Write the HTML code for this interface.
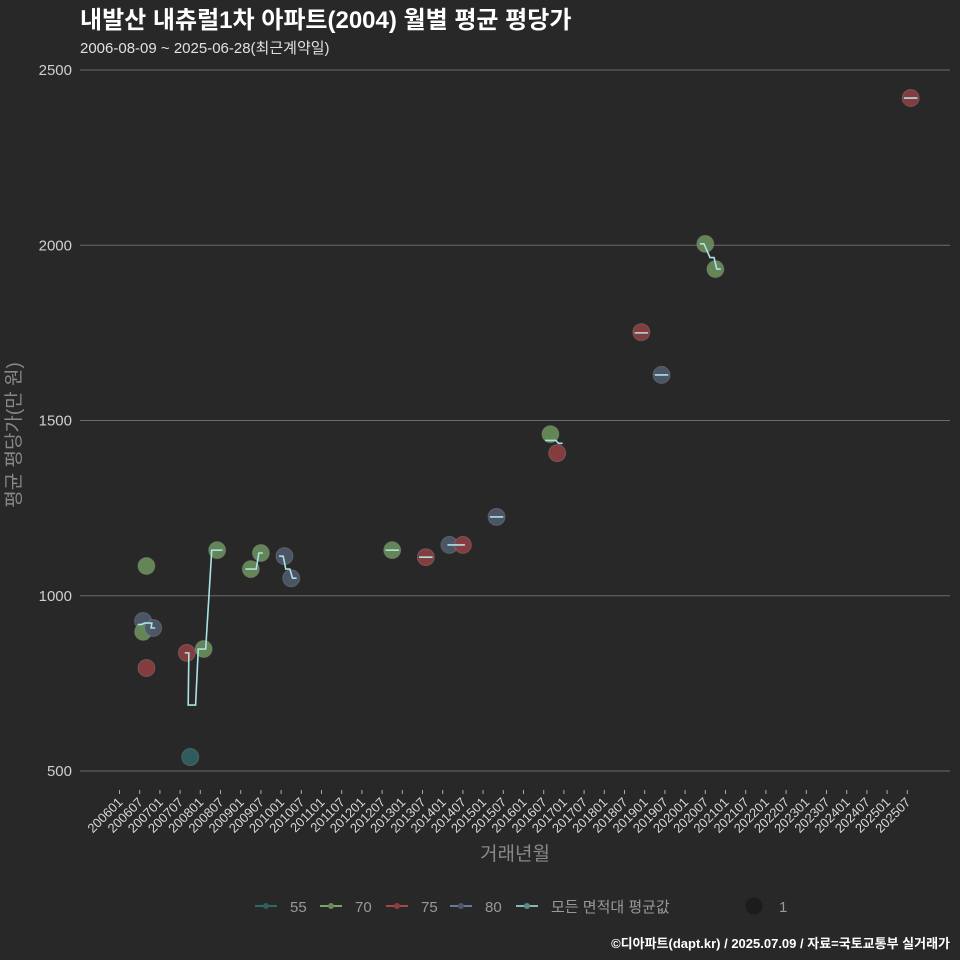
<!DOCTYPE html>
<html><head><meta charset="utf-8">
<style>
html,body{margin:0;padding:0;background:#282828;}
svg{display:block;font-family:"Liberation Sans","Noto Sans CJK KR",sans-serif;}
</style></head>
<body>
<svg id="chart" width="960" height="960" viewBox="0 0 960 960">
<rect width="960" height="960" fill="#282828"/>
<text x="80" y="28" font-size="24" font-weight="bold" fill="#ffffff">내발산 내츄럴1차 아파트(2004) 월별 평균 평당가</text>
<text x="80" y="53" font-size="15" fill="#e0e0e0">2006-08-09 ~ 2025-06-28(최근계약일)</text>
<g id="grid"></g><g id="xaxis"></g><g id="points"></g><g id="avgline"></g>
<text x="0" y="0" transform="translate(20,435) rotate(-90)" text-anchor="middle" font-size="19" fill="#888">평균 평당가(만 원)</text>
<text x="515" y="860" text-anchor="middle" font-size="19" fill="#888">거래년월</text>
<g id="legend"></g>
<text x="950" y="948" text-anchor="end" font-size="13" font-weight="bold" fill="#ffffff">©디아파트(dapt.kr) / 2025.07.09 / 자료=국토교통부 실거래가</text>
</svg>
<script>
const yTicks=[500,1000,1500,2000,2500];
const xTickLabels=["200601","200607","200701","200707","200801","200807","200901","200907","201001","201007","201101","201107","201201","201207","201301","201307","201401","201407","201501","201507","201601","201607","201701","201707","201801","201807","201901","201907","202001","202007","202101","202107","202201","202207","202301","202307","202401","202407","202501","202507"];
const pointMonths=[7,8,7,8,10,20,21,25,29,39,42,49,51,81,91,98,102,112,128,130,155,161,174,177,235];
const pointValues=[928,1085,897,794,908,837,540,848,1130,1076,1122,1113,1050,1130,1110,1145,1145,1225,1461,1407,1752,1630,2004,1932,2420];
const pointAreas=["80","70","70","75","80","75","55","70","70","70","70","80","80","70","75","80","75","80","70","75","75","80","70","70","75"];
const avgMonths=[6,8,9,10,20,21,22,24,25,28,30,38,40,42,48,50,52,81,91,98,99,100,101,102,112,127,129,131,155,161,173,176,178,235];
const avgValues=[918,922,922,908,837,688,688,848,848,1130,1130,1076,1076,1122,1113,1076,1050,1130,1110,1145,1145,1145,1145,1145,1225,1443,1443,1435,1750,1630,2004,1965,1932,2420];
const avgGroups=[0,0,0,0,1,1,1,1,1,1,1,2,2,2,3,3,3,4,5,6,6,6,6,6,7,8,8,8,9,10,11,11,11,12];
const areas=["55","70","75","80"];
const ptColors={"55":"#2f5e5e","70":"#688a58","75":"#8a3e41","80":"#4d586a"};
const lgColors={"55":"#2a8080","70":"#8ed07a","75":"#d05050","80":"#7a96c0"};
const NS="http://www.w3.org/2000/svg";
function X(m){return 119.5+m*20.2/6;}
function Y(v){return 771-(v-500)*701/2000;}
function mk(tag,attrs,parent){const e=document.createElementNS(NS,tag);for(const k in attrs)e.setAttribute(k,attrs[k]);parent.appendChild(e);return e;}
const grid=document.getElementById('grid');
yTicks.forEach(v=>{
  const l=mk('line',{x1:80,x2:950,y1:Y(v),y2:Y(v),stroke:'#6a6a6a','stroke-width':1},grid);
  
  
  const t=mk('text',{x:72,y:Y(v)+5,'text-anchor':'end','font-size':15,fill:'#cfcfcf'},grid);
  t.textContent=v;
  
  
});
const xa=document.getElementById('xaxis');
xTickLabels.forEach((s,i)=>{
  const x=X(i*6);
  const l=mk('line',{x1:x,x2:x,y1:790,y2:794,stroke:'#aaa','stroke-width':1},xa);
  
  
  const t=mk('text',{x:0,y:0,transform:`translate(${x+4},${803}) rotate(-45)`,'text-anchor':'end','font-size':13,fill:'#d8d8d8'},xa);
  t.textContent=s;
  
  
});
const pg=document.getElementById('points');
pointMonths.forEach((m,i)=>{
  const c=mk('circle',{cx:X(m),cy:Y(pointValues[i]),r:8.5,fill:ptColors[pointAreas[i]],stroke:'#9a9a9a','stroke-opacity':0.35,'stroke-width':1,opacity:0.95},pg);
  
  
});
let d='';
avgMonths.forEach((m,i)=>{
  const y=Y(avgValues[i]);
  const start=(i===0||avgGroups[i]!==avgGroups[i-1]);
  const single=start&&(i===avgMonths.length-1||avgGroups[i+1]!==avgGroups[i]);
  const hw=single?2:0.6;
  d+=(start?'M':'L')+X(m-hw)+','+y+'L'+X(m+hw)+','+y;
});
const al=mk('path',{d:d,fill:'none',stroke:'#a8e4e4','stroke-width':1.6},document.getElementById('avgline'));


const lg=document.getElementById('legend');
const lx=[255,320,386,450,516];
const labels=["55","70","75","80","모든 면적대 평균값"];
labels.forEach((s,i)=>{
  const col=i<4?lgColors[areas[i]]:'#a8e4e4';
  const g=mk('g',{},lg);
  
  
  mk('line',{x1:lx[i],x2:lx[i]+22,y1:906,y2:906,stroke:col,'stroke-width':1.5},g);
  mk('circle',{cx:lx[i]+11,cy:906,r:3,fill:i<4?ptColors[areas[i]]:'#5a8a8a'},g);
  const t=mk('text',{x:lx[i]+35,y:912,'font-size':15,fill:'#999'},g);
  t.textContent=s;
});
const sg=mk('g',{},lg);


mk('circle',{cx:754,cy:906,r:8.5,fill:'#1c1c1c'},sg);
const st=mk('text',{x:779,y:912,'font-size':15,fill:'#999'},sg);
st.textContent='1';
</script>
</body></html>
